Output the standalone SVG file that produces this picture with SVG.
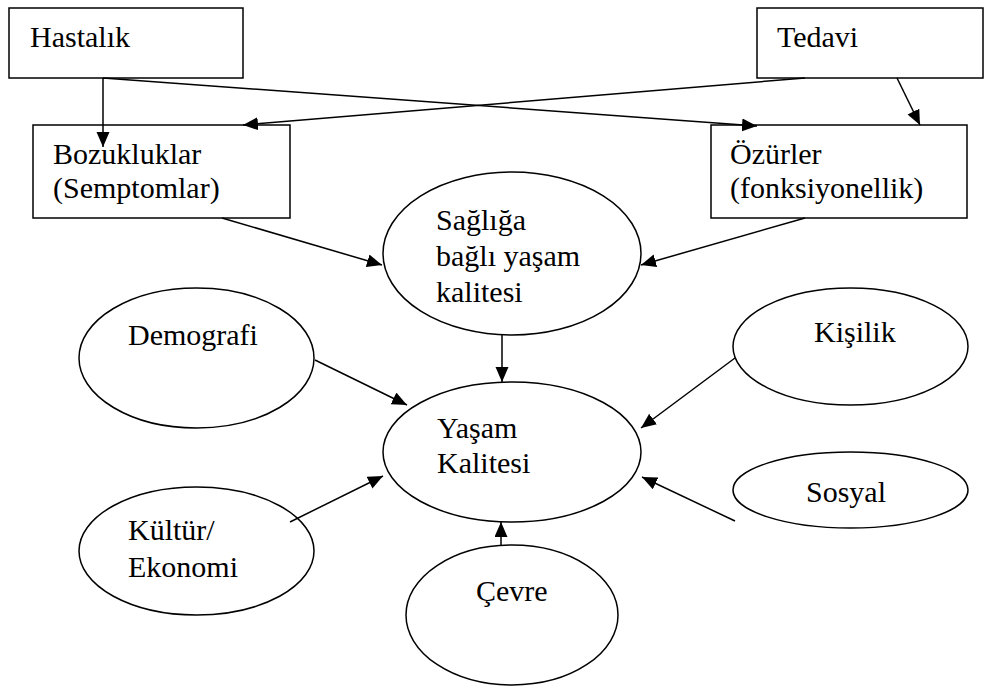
<svg xmlns="http://www.w3.org/2000/svg" width="984" height="689" viewBox="0 0 984 689">
<style>
  .box { fill: #ffffff; stroke: #000000; stroke-width: 1.5; }
  .ell { fill: #ffffff; stroke: #000000; stroke-width: 1.5; }
  .lbl { font-family: "Liberation Serif", "Times New Roman", serif; font-size: 30px; fill: #000000; }
  .con { fill: none; stroke: #000000; stroke-width: 1.5; marker-end: url(#arr); }
</style>
<defs>
  <marker id="arr" markerUnits="userSpaceOnUse" markerWidth="16" markerHeight="14" refX="15" refY="6.5" orient="auto">
    <path d="M0,0 L15,6.5 L0,13 z" fill="#000000"/>
  </marker>
</defs>
<rect width="984" height="689" fill="#ffffff"/>

<g id="hastalik">
  <rect class="box" x="9" y="8" width="234" height="70"/>
  <text class="lbl" x="30" y="47">Hastalık</text>
</g>
<g id="tedavi">
  <rect class="box" x="757" y="8" width="226" height="70"/>
  <text class="lbl" x="777" y="47">Tedavi</text>
</g>
<g id="bozukluklar">
  <rect class="box" x="33" y="125" width="257" height="93"/>
  <text class="lbl" x="53" y="164">Bozukluklar</text>
  <text class="lbl" x="53" y="198">(Semptomlar)</text>
</g>
<g id="ozurler">
  <rect class="box" x="711" y="125" width="256" height="93"/>
  <text class="lbl" x="730" y="164">Özürler</text>
  <text class="lbl" x="730" y="198">(fonksiyonellik)</text>
</g>
<g id="saglik">
  <ellipse class="ell" cx="512" cy="253.5" rx="129" ry="81.5"/>
  <text class="lbl" x="436" y="230">Sağlığa</text>
  <text class="lbl" x="436" y="266">bağlı yaşam</text>
  <text class="lbl" x="436" y="302">kalitesi</text>
</g>
<g id="yasam">
  <ellipse class="ell" cx="512" cy="452" rx="129" ry="70"/>
  <text class="lbl" x="437" y="438">Yaşam</text>
  <text class="lbl" x="437" y="473">Kalitesi</text>
</g>
<g id="demografi">
  <ellipse class="ell" cx="196.5" cy="358" rx="117.5" ry="70"/>
  <text class="lbl" x="128" y="345">Demografi</text>
</g>
<g id="kisilik">
  <ellipse class="ell" cx="850.5" cy="346.5" rx="117.5" ry="58.5"/>
  <text class="lbl" x="814" y="342">Kişilik</text>
</g>
<g id="kultur">
  <ellipse class="ell" cx="196.5" cy="551" rx="117.5" ry="64"/>
  <text class="lbl" x="128" y="540">Kültür/</text>
  <text class="lbl" x="128" y="577">Ekonomi</text>
</g>
<g id="sosyal">
  <ellipse class="ell" cx="850.5" cy="490" rx="117.5" ry="38"/>
  <text class="lbl" x="806" y="502">Sosyal</text>
</g>
<g id="cevre">
  <ellipse class="ell" cx="512" cy="615" rx="106" ry="70"/>
  <text class="lbl" x="476" y="601">Çevre</text>
</g>

<g id="connectors">
  <line class="con" x1="103" y1="78" x2="103" y2="147"/>
  <line class="con" x1="103" y1="78" x2="757" y2="126"/>
  <line class="con" x1="805" y1="78" x2="243" y2="125"/>
  <line class="con" x1="897" y1="78" x2="920" y2="125"/>
  <line class="con" x1="222" y1="218" x2="382" y2="265"/>
  <line class="con" x1="805" y1="218" x2="641" y2="265"/>
  <line class="con" x1="502" y1="335" x2="502" y2="382"/>
  <line class="con" x1="315" y1="360" x2="407" y2="405"/>
  <line class="con" x1="735" y1="358" x2="641" y2="428"/>
  <line class="con" x1="735" y1="521" x2="642" y2="477"/>
  <line class="con" x1="290" y1="522" x2="383" y2="476"/>
  <line class="con" x1="501" y1="545" x2="501" y2="522"/>
</g>
</svg>
